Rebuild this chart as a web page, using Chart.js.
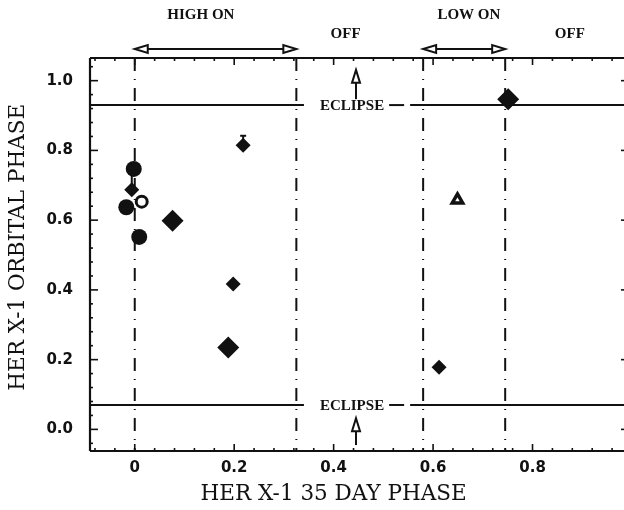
<!DOCTYPE html>
<html>
<head>
<meta charset="utf-8" />
<title>Her X-1 orbital phase vs 35 day phase</title>
<style>
  html, body { margin: 0; padding: 0; background: #fff; overflow: hidden; }
  #wrap { width: 640px; height: 510px; }
</style>
</head>
<body>
<div id="wrap"><canvas id="phaseChart" width="640" height="510"></canvas></div>
<script src="https://cdn.jsdelivr.net/npm/chart.js@4/dist/chart.umd.min.js"></script>
<script>
// 35 day phase (x) and orbital phase (y)
const bigDiamondX = [0.076, 0.188, 0.751];
const bigDiamondY = [0.598, 0.235, 0.947];
const smallDiamondX = [-0.006, 0.218, 0.198, 0.612];
const smallDiamondY = [0.687, 0.815, 0.417, 0.178];
const filledCircleX = [-0.002, -0.017, 0.009];
const filledCircleY = [0.747, 0.637, 0.552];
const openCircleX = [0.014];
const openCircleY = [0.653];
const openTriangleX = [0.649];
const openTriangleY = [0.658];

// upper error bars
const errorX = [-0.006, 0.218];
const errorLow = [0.687, 0.815];
const errorHigh = [0.745, 0.842];

const xTicks = [0, 0.2, 0.4, 0.6, 0.8];
const yTicks = [0, 0.2, 0.4, 0.6, 0.8, 1.0];

// 35 day cycle state edges and eclipse limits
const stateEdges = [0, 0.325, 0.58, 0.745];
const stateNames = ["HIGH ON", "OFF", "LOW ON", "OFF"];
const stateNameAt = [0.133, 0.424, 0.672, 0.875];
const eclipseEdges = [0.07, 0.93];

const ink = "#111";
const pairs = (xs, ys) => xs.map((v, i) => ({ x: v, y: ys[i] }));

function seg(ctx, x1, y1, x2, y2) {
  ctx.beginPath();
  ctx.moveTo(x1, y1);
  ctx.lineTo(x2, y2);
  ctx.stroke();
}

// open arrow head, tip at (x, y), pointing along (dx, dy)
function head(ctx, x, y, dx, dy) {
  const len = 13, half = 4;
  const bx = x - dx * len, by = y - dy * len;
  ctx.beginPath();
  ctx.moveTo(x, y);
  ctx.lineTo(bx - dy * half, by + dx * half);
  ctx.lineTo(bx + dy * half, by - dx * half);
  ctx.closePath();
  ctx.fillStyle = "#fff";
  ctx.fill();
  ctx.stroke();
}

const decorations = {
  id: "decorations",
  beforeDatasetsDraw(chart) {
    const { ctx, chartArea: a, scales: { x, y } } = chart;
    ctx.save();
    ctx.strokeStyle = ink;
    ctx.fillStyle = ink;
    ctx.lineWidth = 2;

    // state edges
    ctx.setLineDash([13, 8, 1, 8]);
    stateEdges.forEach(v => {
      const px = x.getPixelForValue(v);
      seg(ctx, px, a.top, px, a.bottom);
    });
    ctx.setLineDash([]);

    // eclipse lines
    ctx.font = "bold 15px 'Liberation Serif'";
    ctx.textAlign = "center";
    ctx.textBaseline = "middle";
    const tw = ctx.measureText("ECLIPSE").width;
    const cx = x.getPixelForValue(0.437);
    eclipseEdges.forEach(v => {
      const py = y.getPixelForValue(v);
      seg(ctx, a.left, py, cx - tw / 2 - 16, py);
      seg(ctx, cx + tw / 2 + 5, py, cx + tw / 2 + 20, py);
      seg(ctx, cx + tw / 2 + 26, py, a.right, py);
      ctx.fillStyle = ink;
      ctx.fillText("ECLIPSE", cx, py + 1);
    });

    // eclipse arrows
    const ax = x.getPixelForValue(0.445);
    seg(ctx, ax, y.getPixelForValue(0.947), ax, y.getPixelForValue(1.0));
    head(ctx, ax, y.getPixelForValue(1.031), 0, -1);
    seg(ctx, ax, y.getPixelForValue(-0.045), ax, y.getPixelForValue(0.0));
    head(ctx, ax, y.getPixelForValue(0.032), 0, -1);

    // error bars
    errorX.forEach((v, i) => {
      const px = x.getPixelForValue(v);
      const top = y.getPixelForValue(errorHigh[i]);
      seg(ctx, px, y.getPixelForValue(errorLow[i]), px, top);
      seg(ctx, px - 3, top, px + 3, top);
    });

    // frame: left, bottom and top
    ctx.lineWidth = 2.2;
    seg(ctx, a.left, a.top, a.left, a.bottom);
    seg(ctx, a.left, a.bottom, a.right, a.bottom);
    seg(ctx, a.left, a.top, a.right, a.top);

    // inward ticks
    ctx.lineWidth = 1.6;
    for (let k = -2; k <= 24; k++) {
      const v = k * 0.04;
      const major = k % 5 === 0;
      const px = x.getPixelForValue(v);
      if (px < a.left + 2 || px > a.right) continue;
      const L = major ? 7 : 3;
      seg(ctx, px, a.bottom, px, a.bottom - L);
      seg(ctx, px, a.top, px, a.top + L);
    }
    for (let k = -1; k <= 26; k++) {
      const v = k * 0.04;
      const major = k % 5 === 0;
      const py = y.getPixelForValue(v);
      if (py > a.bottom - 2 || py < a.top + 2) continue;
      seg(ctx, a.left, py, a.left + (major ? 8 : 3), py);
      if (major) seg(ctx, a.right, py, a.right - 6, py);
    }
    ctx.restore();
  },
  afterDraw(chart) {
    const { ctx, chartArea: a, scales: { x, y } } = chart;
    ctx.save();
    ctx.strokeStyle = ink;
    ctx.fillStyle = ink;
    ctx.lineWidth = 2;

    // state arrows above the frame
    const ay = a.top - 9;
    [[0, 1], [2, 3]].forEach(([s, e]) => {
      const x1 = x.getPixelForValue(stateEdges[s]);
      const x2 = x.getPixelForValue(stateEdges[e]);
      seg(ctx, x1 + 12, ay, x2 - 12, ay);
      head(ctx, x1, ay, -1, 0);
      head(ctx, x2, ay, 1, 0);
    });

    // state names
    ctx.fillStyle = ink;
    ctx.font = "bold 15px 'Liberation Serif'";
    ctx.textAlign = "center";
    ctx.textBaseline = "middle";
    stateNames.forEach((t, i) => {
      const py = t === "OFF" ? 34 : 15;
      ctx.fillText(t, x.getPixelForValue(stateNameAt[i]), py);
    });

    // axis titles
    ctx.font = "21.5px 'DejaVu Serif'";
    ctx.fillText("HER X-1 35 DAY PHASE", x.getPixelForValue(0.4), 494);
    ctx.translate(18, y.getPixelForValue(0.522));
    ctx.rotate(-Math.PI / 2);
    ctx.fillText("HER X-1 ORBITAL PHASE", 0, 0);
    ctx.restore();
  }
};

const tickFont = { family: "'DejaVu Sans'", size: 15, weight: "bold" };

new Chart(document.getElementById("phaseChart"), {
  type: "scatter",
  data: {
    datasets: [
      {
        label: "Filled circles",
        data: pairs(filledCircleX, filledCircleY),
        pointStyle: "circle",
        pointRadius: 8,
        backgroundColor: ink,
        borderColor: ink,
        borderWidth: 0
      },
      {
        label: "Large diamonds",
        data: pairs(bigDiamondX, bigDiamondY),
        pointStyle: "rectRot",
        pointRadius: 11,
        backgroundColor: ink,
        borderColor: ink,
        borderWidth: 0
      },
      {
        label: "Small diamonds",
        data: pairs(smallDiamondX, smallDiamondY),
        pointStyle: "rectRot",
        pointRadius: 7.5,
        backgroundColor: ink,
        borderColor: ink,
        borderWidth: 0
      },
      {
        label: "Open circle",
        data: pairs(openCircleX, openCircleY),
        pointStyle: "circle",
        pointRadius: 5.5,
        backgroundColor: "#fff",
        borderColor: ink,
        borderWidth: 3
      },
      {
        label: "Open triangle",
        data: pairs(openTriangleX, openTriangleY),
        pointStyle: "triangle",
        pointRadius: 6,
        backgroundColor: "#fff",
        borderColor: ink,
        borderWidth: 3.5
      }
    ]
  },
  options: {
    responsive: false,
    animation: false,
    layout: { padding: { top: 58, right: 13, left: 0, bottom: 0 } },
    plugins: {
      legend: { display: false },
      tooltip: { enabled: false }
    },
    scales: {
      x: {
        type: "linear",
        min: -0.09,
        max: 0.99,
        afterFit: s => { s.height = 59; },
        afterBuildTicks: s => { s.ticks = xTicks.map(v => ({ value: v })); },
        grid: { display: false, drawTicks: false },
        border: { display: false },
        ticks: {
          padding: 8,
          color: ink,
          font: tickFont,
          maxRotation: 0,
          autoSkip: false,
          callback: v => (v === 0 ? "0" : v.toFixed(1))
        }
      },
      y: {
        type: "linear",
        min: -0.062,
        max: 1.065,
        afterFit: s => { s.width = 90; },
        afterBuildTicks: s => { s.ticks = yTicks.map(v => ({ value: v })); },
        grid: { display: false, drawTicks: false },
        border: { display: false },
        ticks: {
          padding: 17,
          color: ink,
          font: tickFont,
          autoSkip: false,
          callback: v => v.toFixed(1)
        }
      }
    }
  },
  plugins: [decorations]
});
</script>
</body>
</html>
